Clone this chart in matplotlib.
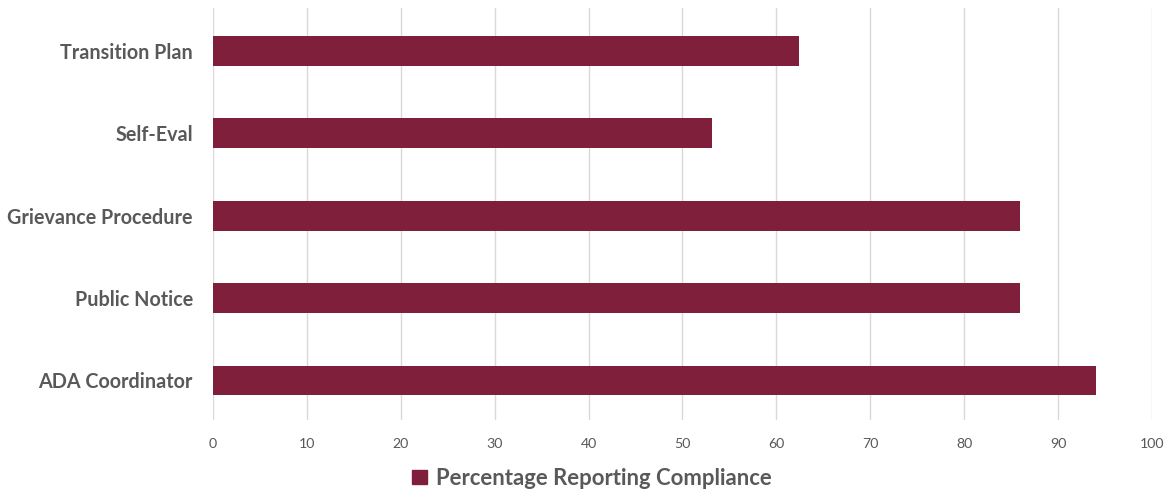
import matplotlib
matplotlib.use("Agg")
import matplotlib.pyplot as plt

categories = ["ADA Coordinator", "Public Notice", "Grievance Procedure", "Self-Eval", "Transition Plan"]
values = [94.0, 85.9, 86.0, 53.1, 62.4]
xticks = [0, 10, 20, 30, 40, 50, 60, 70, 80, 90, 100]
series_name = "Percentage Reporting Compliance"

plt.rcParams['font.family'] = ['Lato', 'DejaVu Sans']
bar_color = "#7F1F3B"
text_color = "#595959"

fig = plt.figure(figsize=(11.72, 4.92), dpi=100)
ax = fig.add_axes([0.1817, 0.1463, 0.8012, 0.8374])
ypos = list(range(len(categories)))
ax.barh(ypos, values, height=0.36, color=bar_color, label=series_name, zorder=3)
ax.set_xlim(0, 100)
ax.set_ylim(-0.48, 4.52)
ax.set_xticks(xticks)
ax.set_xticklabels([str(t) for t in xticks], fontsize=10.2, color=text_color)
ax.set_yticks(ypos)
ax.set_yticklabels(categories, fontsize=14.2, fontweight='bold', color=text_color)
ax.tick_params(axis='both', length=0)
ax.tick_params(axis='x', pad=13)
ax.tick_params(axis='y', pad=14.5)
ax.grid(axis='x', color='#D9D9D9', linewidth=1, zorder=0)
for s in ax.spines.values():
    s.set_visible(False)

fig.legend(handles=[plt.Rectangle((0, 0), 1, 1, color=bar_color)], labels=[series_name],
           loc='center', bbox_to_anchor=(0.505, 0.028), frameon=False,
           prop={'size': 15.9, 'weight': 'bold'}, labelcolor=text_color,
           handlelength=0.65, handleheight=0.65, handletextpad=0.4)

fig.savefig("out.png", dpi=100, facecolor='white')
